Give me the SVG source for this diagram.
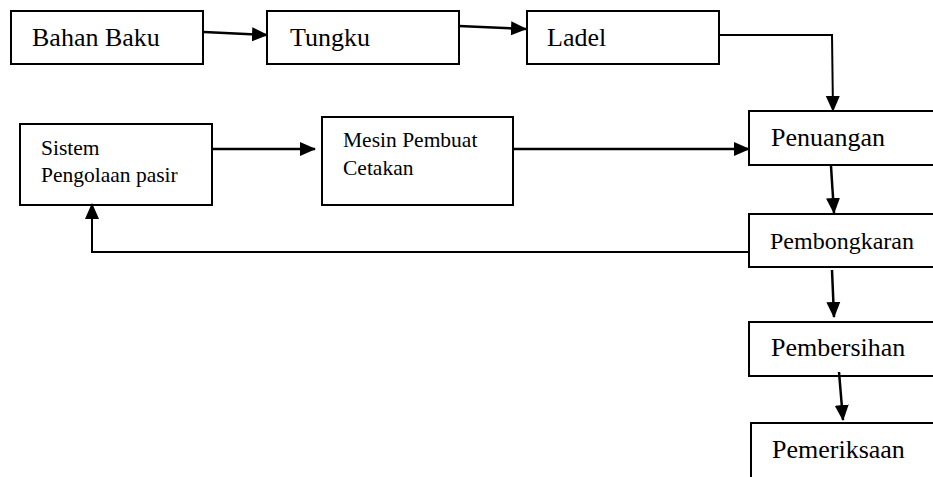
<svg xmlns="http://www.w3.org/2000/svg" width="933" height="477" viewBox="0 0 933 477">
<style>
.box{fill:#fff;stroke:#000;stroke-width:2}
.t{font-family:"Liberation Serif","Times New Roman",serif;fill:#000}
.big{font-size:26px}
.mid{font-size:24px}
.sm{font-size:21.5px}
.c{fill:none;stroke:#000;stroke-width:2.5}
.thin{fill:none;stroke:#000;stroke-width:2}
</style>
<defs>
<marker id="ah" markerWidth="10" markerHeight="10" refX="9" refY="5" orient="auto" markerUnits="userSpaceOnUse" viewBox="0 0 10 10">
<path d="M0,0 L10,5 L0,10 Z" fill="#000"/>
</marker>
<marker id="ahb" markerWidth="16" markerHeight="16" refX="15" refY="8" orient="auto" markerUnits="userSpaceOnUse" viewBox="0 0 16 16">
<path d="M0,1 L16,8 L0,15 Z" fill="#000"/>
</marker>
</defs>
<rect width="933" height="477" fill="#fff"/>
<g id="bahan-baku"><rect class="box" x="11" y="11" width="192" height="53"/><text class="t big" x="32" y="46">Bahan Baku</text></g>
<g id="tungku"><rect class="box" x="267" y="11" width="192" height="53"/><text class="t big" x="290" y="46">Tungku</text></g>
<g id="ladel"><rect class="box" x="527" y="11" width="192" height="53"/><text class="t big" x="547" y="46">Ladel</text></g>
<g id="sistem"><rect class="box" x="20" y="124" width="192" height="81"/><text class="t sm" x="41" y="155">Sistem</text><text class="t sm" x="41" y="182">Pengolaan pasir</text></g>
<g id="mesin"><rect class="box" x="322" y="117" width="191" height="88"/><text class="t sm" x="343" y="147">Mesin Pembuat</text><text class="t sm" x="343" y="175">Cetakan</text></g>
<g id="penuangan"><rect class="box" x="749" y="111" width="192" height="54"/><text class="t big" x="771" y="146">Penuangan</text></g>
<g id="pembongkaran"><rect class="box" x="749" y="214" width="192" height="53"/><text class="t mid" x="770" y="249">Pembongkaran</text></g>
<g id="pembersihan"><rect class="box" x="749" y="322" width="192" height="54"/><text class="t big" x="771" y="356">Pembersihan</text></g>
<g id="pemeriksaan"><rect class="box" x="751" y="423" width="192" height="60"/><text class="t big" x="772" y="458">Pemeriksaan</text></g>
<g id="connectors">
<path class="c" d="M204,32 L267,35" marker-end="url(#ahb)"/>
<path class="c" d="M459,26 L526,29" marker-end="url(#ahb)"/>
<path class="thin" d="M719,35 L832,35 L833,111" marker-end="url(#ahb)"/>
<path class="c" d="M212,149 L315,149" marker-end="url(#ahb)"/>
<path class="c" d="M513,149 L749,149" marker-end="url(#ahb)"/>
<path class="c" d="M831,166 L834,213" marker-end="url(#ahb)"/>
<path class="thin" d="M749,252 L92,252 L92,204" marker-end="url(#ahb)"/>
<path class="c" d="M832,270 L834,317" marker-end="url(#ahb)"/>
<path class="c" d="M839,372 L843,420" marker-end="url(#ahb)"/>
</g>
</svg>
